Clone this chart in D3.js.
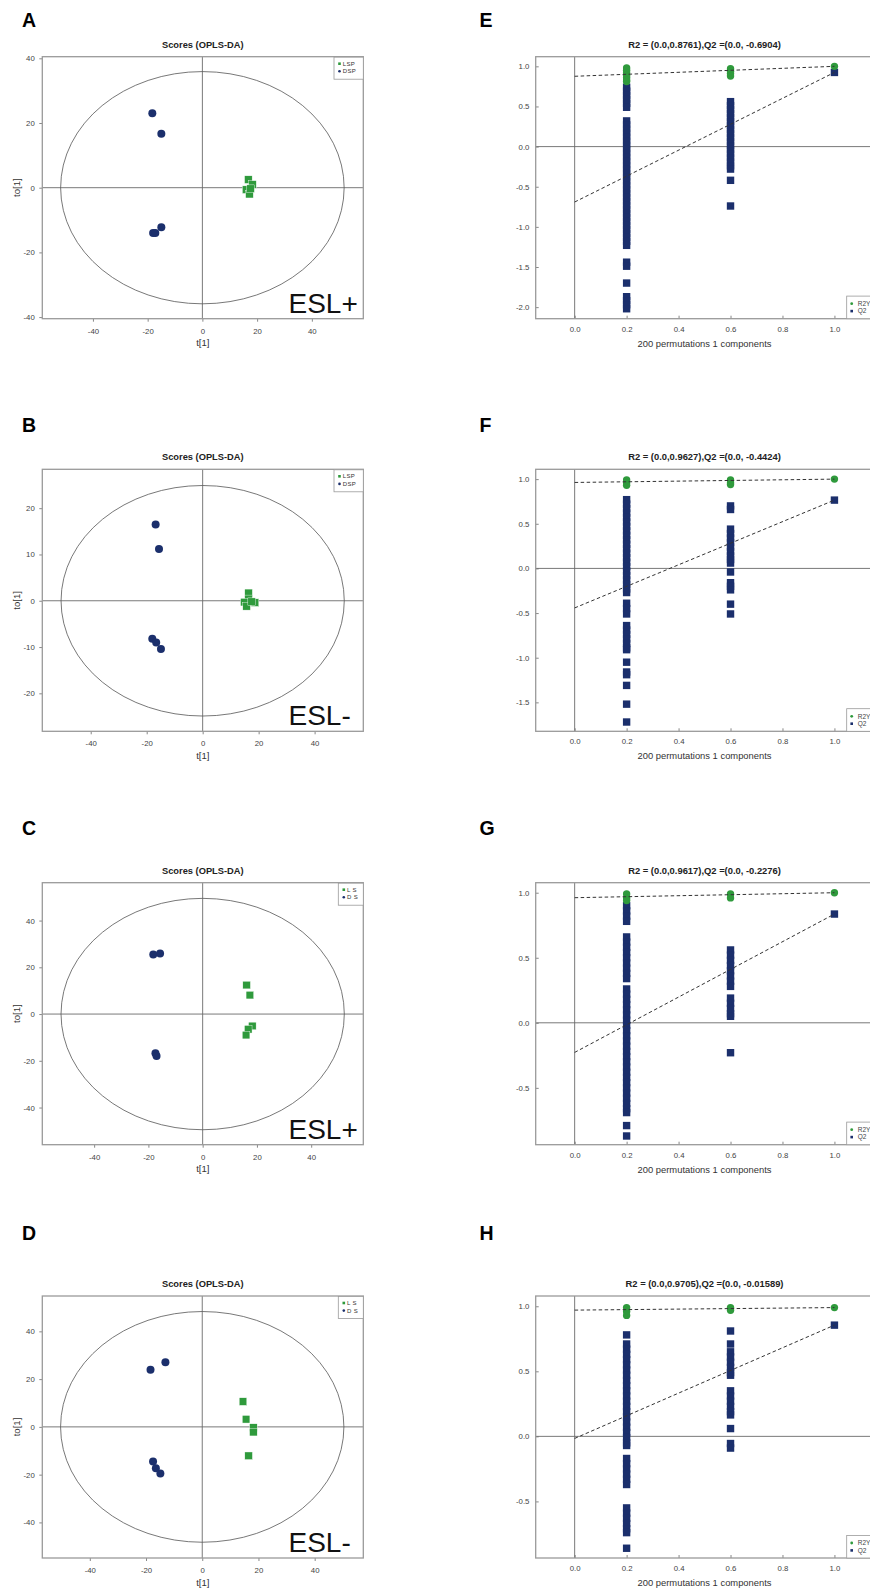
<!DOCTYPE html>
<html><head><meta charset="utf-8">
<script src="https://cdn.jsdelivr.net/npm/d3@7"></script>
<style>
body{margin:0;background:#fff}
svg{display:block}
text{font-family:Arial,"Liberation Sans",Helvetica,sans-serif}
</style>
</head><body>
<svg id="chart" width="870" height="1590"></svg>
<script>
// ---------------- DATA ----------------
// Score plots (OPLS-DA): [t[1], to[1]]
const aLSP = [[16.8,2.5],[18.3,1.0],[16.0,-0.6],[17.2,-2.0],[17.6,-0.3]];
const aDSP = [[-18.3,23.0],[-15.0,16.7],[-15.0,-12.2],[-18.0,-14.0],[-17.2,-14.0]];
const bLSP = [[16.4,1.7],[16.4,0.4],[14.9,-0.3],[18.7,-0.4],[15.7,-1.2],[17.5,-0.2]];
const bDSP = [[-16.8,16.5],[-15.6,11.2],[-18.0,-8.2],[-16.6,-9.0],[-14.9,-10.4]];
const cLS  = [[16.2,12.4],[17.4,8.1],[18.3,-5.1],[16.8,-6.5],[16.0,-9.0]];
const cDS  = [[-18.2,25.5],[-15.7,25.9],[-17.4,-16.8],[-17.0,-17.9]];
const dLS  = [[14.5,10.6],[15.6,3.2],[18.2,-0.3],[18.2,-2.2],[16.5,-12.1]];
const dDS  = [[-18.4,23.9],[-13.1,27.1],[-17.5,-14.5],[-16.5,-17.3],[-14.9,-19.5]];
// Hotelling ellipse semi-axes [t, to]
const aEllipse = [51.8, 35.9];
const bEllipse = [50.6, 24.9];
const cEllipse = [52.2, 49.5];
const dEllipse = [50.4, 48.3];
const scoreXTicks = [-40,-20,0,20,40];
const scoreYTicksAC = [-40,-20,0,20,40];
const scoreYTicksB = [-20,-10,0,10,20];
const scoreLabels = ["ESL+","ESL-","ESL+","ESL-"];
const legendAB = ["LSP","DSP"];
const legendCD = ["L S","D S"];

// Permutation plots
const permXTicks = [0,0.2,0.4,0.6,0.8,1.0];
const permTitles = [
  "R2 = (0.0,0.8761),Q2 =(0.0, -0.6904)",
  "R2 = (0.0,0.9627),Q2 =(0.0, -0.4424)",
  "R2 = (0.0,0.9617),Q2 =(0.0, -0.2276)",
  "R2 = (0.0,0.9705),Q2 =(0.0, -0.01589)"
];
const eIntercepts = [0.8761, -0.6904];
const fIntercepts = [0.9627, -0.4424];
const gIntercepts = [0.9617, -0.2276];
const hIntercepts = [0.9705, -0.01589];
// values at x = 1.0 (original model): [R2Y, Q2]
const eFull = [1.0, 0.924];
const fFull = [1.0, 0.765];
const gFull = [1.0, 0.836];
const hFull = [0.99, 0.855];

const eR2Y_02 = [0.98,0.95,0.92,0.89,0.86,0.83,0.81];
const eR2Y_06 = [0.97,0.94,0.91,0.88];
const eQ2_02 = [0.74,0.69,0.64,0.59,0.54,0.49,0.32,0.27,0.22,0.17,0.12,0.07,0.02,-0.03,-0.08,-0.13,-0.18,-0.23,-0.28,-0.33,-0.38,-0.43,-0.48,-0.53,-0.58,-0.63,-0.68,-0.73,-0.78,-0.83,-0.88,-0.93,-0.98,-1.03,-1.08,-1.13,-1.18,-1.23,-1.44,-1.49,-1.70,-1.87,-1.92,-1.97,-2.02];
const eQ2_06 = [0.56,0.51,0.46,0.41,0.36,0.31,0.26,0.21,0.16,0.11,0.06,0.01,-0.04,-0.09,-0.14,-0.19,-0.24,-0.28,-0.42,-0.74];

const fR2Y_02 = [0.99,0.96,0.93];
const fR2Y_06 = [0.99,0.96,0.94];
const fQ2_02 = [0.77,0.72,0.67,0.62,0.57,0.52,0.47,0.42,0.37,0.32,0.27,0.22,0.17,0.12,0.07,0.02,-0.03,-0.08,-0.13,-0.18,-0.23,-0.27,-0.39,-0.45,-0.51,-0.64,-0.69,-0.74,-0.79,-0.84,-0.89,-0.91,-1.05,-1.16,-1.19,-1.31,-1.52,-1.72];
const fQ2_06 = [0.70,0.66,0.44,0.39,0.34,0.29,0.24,0.19,0.14,0.10,0.06,-0.04,-0.16,-0.20,-0.24,-0.40,-0.51];

const gR2Y_02 = [0.99,0.96,0.94];
const gR2Y_06 = [0.99,0.96];
const gQ2_02 = [0.90,0.86,0.82,0.78,0.66,0.62,0.58,0.54,0.50,0.46,0.42,0.38,0.34,0.26,0.22,0.18,0.14,0.10,0.06,0.02,-0.02,-0.06,-0.10,-0.14,-0.18,-0.22,-0.26,-0.30,-0.34,-0.38,-0.42,-0.46,-0.50,-0.54,-0.58,-0.62,-0.66,-0.69,-0.79,-0.87];
const gQ2_06 = [0.56,0.52,0.48,0.44,0.40,0.36,0.32,0.28,0.19,0.15,0.11,0.07,0.05,-0.23];

const hR2Y_02 = [0.99,0.96,0.93];
const hR2Y_06 = [0.99,0.97];
const hQ2_02 = [0.78,0.71,0.67,0.63,0.59,0.55,0.51,0.47,0.43,0.39,0.35,0.31,0.27,0.23,0.19,0.15,0.11,0.07,0.03,-0.01,-0.05,-0.07,-0.17,-0.21,-0.25,-0.29,-0.33,-0.37,-0.55,-0.59,-0.63,-0.67,-0.71,-0.74,-0.86];
const hQ2_06 = [0.81,0.71,0.65,0.61,0.57,0.53,0.49,0.47,0.35,0.31,0.27,0.23,0.19,0.165,0.06,-0.055,-0.09];

// ---------------- DRAWING ----------------
const svg = d3.select("#chart");
svg.append("rect").attr("width",870).attr("height",1590).attr("fill","#fff");
const GREEN = "#2f9a3c", BLUE = "#1b2f6c", FRAME = "#9a9a9a", ZERO = "#6a6a6a";
const FONT = "Arial, 'Liberation Sans', Helvetica, sans-serif";
const PH = 262; // plot height

function styleAxis(g, fs) {
  g.attr("font-size", fs).attr("font-family", FONT);
  g.select(".domain").remove();
  g.selectAll(".tick line").attr("stroke", "#888");
  g.selectAll(".tick text").attr("fill", "#444");
}

function scorePanel(cfg) {
  const L = 42.3, R = 363.3, T = cfg.top, B = cfg.top + PH;
  const g = svg.append("g");
  const x = d3.scaleLinear().domain(cfg.xDomain).range([L, R]);
  const y = d3.scaleLinear().domain(cfg.yDomain).range([B, T]);

  g.append("text").attr("x", 22).attr("y", cfg.letterY).text(cfg.letter)
    .attr("font-size", 19.5).attr("font-weight", "bold").attr("fill", "#000");
  g.append("text").attr("x", (L + R) / 2).attr("y", T - 9).attr("text-anchor", "middle")
    .attr("font-size", 9.3).attr("font-weight", "bold").attr("fill", "#222").text("Scores (OPLS-DA)");

  const xa = g.append("g").attr("transform", `translate(0,${B})`)
    .call(d3.axisBottom(x).tickValues(scoreXTicks).tickSize(3).tickFormat(d => String(d)));
  styleAxis(xa, 7.8);
  xa.selectAll(".tick text").attr("y", 9.6);
  const ya = g.append("g").attr("transform", `translate(${L},0)`)
    .call(d3.axisLeft(y).tickValues(cfg.yTicks).tickSize(3).tickFormat(d => String(d)));
  styleAxis(ya, 7.8);
  ya.selectAll(".tick text").attr("x", -7.5);

  // zero lines
  g.append("line").attr("x1", x(0)).attr("x2", x(0)).attr("y1", T).attr("y2", B).attr("stroke", ZERO).attr("stroke-width", 0.9);
  g.append("line").attr("x1", L).attr("x2", R).attr("y1", y(0)).attr("y2", y(0)).attr("stroke", ZERO).attr("stroke-width", 0.9);
  // ellipse
  g.append("ellipse").attr("cx", x(0)).attr("cy", y(0))
    .attr("rx", x(cfg.ellipse[0]) - x(0)).attr("ry", y(0) - y(cfg.ellipse[1]))
    .attr("fill", "none").attr("stroke", "#555").attr("stroke-width", 0.8);

  // frame
  g.append("rect").attr("x", L).attr("y", T).attr("width", R - L).attr("height", PH)
    .attr("fill", "none").attr("stroke", FRAME).attr("stroke-width", 1.3);

  // points
  const s = 7.6;
  g.selectAll(".sq").data(cfg.green).join("rect")
    .attr("x", d => x(d[0]) - s / 2).attr("y", d => y(d[1]) - s / 2)
    .attr("width", s).attr("height", s).attr("fill", GREEN).attr("stroke", "#fff").attr("stroke-width", 0.4);
  g.selectAll(".ci").data(cfg.blue).join("circle")
    .attr("cx", d => x(d[0])).attr("cy", d => y(d[1])).attr("r", 4).attr("fill", BLUE);

  // legend
  const lx = cfg.legendX;
  g.append("rect").attr("x", lx).attr("y", T + 0.5).attr("width", R - lx).attr("height", 22)
    .attr("fill", "#fff").attr("stroke", FRAME).attr("stroke-width", 0.8);
  cfg.legend.forEach((lab, i) => {
    const yy = T + 7 + i * 7.6;
    if (i === 0) g.append("rect").attr("x", lx + 4.2).attr("y", yy - 1.3).attr("width", 2.6).attr("height", 2.6).attr("fill", GREEN);
    else g.append("circle").attr("cx", lx + 5.5).attr("cy", yy).attr("r", 1.3).attr("fill", BLUE);
    g.append("text").attr("x", lx + 8.8).attr("y", yy + 2.1).text(lab)
      .attr("font-family", "'Liberation Serif', 'DejaVu Serif', serif").attr("font-size", 6).attr("fill", "#333")
      .attr("letter-spacing", 0.3);
  });

  // group label
  g.append("text").attr("x", 288.5).attr("y", B - 6).text(cfg.tag)
    .attr("font-size", 28).attr("fill", "#111");

  // axis titles
  g.append("text").attr("x", (L + R) / 2).attr("y", B + 27.5).attr("text-anchor", "middle")
    .attr("font-size", 9.6).attr("fill", "#333").text("t[1]");
  g.append("text").attr("transform", `translate(19.5,${(T + B) / 2}) rotate(-90)`).attr("text-anchor", "middle")
    .attr("font-size", 9.6).attr("fill", "#333").text("to[1]");
}

function permPanel(cfg) {
  const L = 535.7, R = 873.4, T = cfg.top, B = cfg.top + PH;
  const g = svg.append("g");
  const x = d3.scaleLinear().domain([-0.15, 1.15]).range([L, R]);
  const y = d3.scaleLinear().domain(cfg.yDomain).range([B, T]);

  g.append("text").attr("x", 479.5).attr("y", cfg.letterY).text(cfg.letter)
    .attr("font-size", 19.5).attr("font-weight", "bold").attr("fill", "#000");
  g.append("text").attr("x", x(0.5)).attr("y", T - 9).attr("text-anchor", "middle")
    .attr("font-size", 9.4).attr("font-weight", "bold").attr("fill", "#222").text(cfg.title);

  const xa = g.append("g").attr("transform", `translate(0,${B})`)
    .call(d3.axisBottom(x).tickValues(permXTicks).tickSize(-3).tickFormat(d => d.toFixed(1)));
  styleAxis(xa, 7.8);
  xa.selectAll(".tick text").attr("y", 7.6);
  const ya = g.append("g").attr("transform", `translate(${L},0)`)
    .call(d3.axisLeft(y).tickValues(cfg.yTicks).tickSize(-3).tickFormat(d => d.toFixed(1)));
  styleAxis(ya, 7.8);
  ya.selectAll(".tick text").attr("x", -6.3);

  g.append("line").attr("x1", x(0)).attr("x2", x(0)).attr("y1", T).attr("y2", B).attr("stroke", ZERO).attr("stroke-width", 0.9);
  g.append("line").attr("x1", L).attr("x2", R).attr("y1", y(0)).attr("y2", y(0)).attr("stroke", ZERO).attr("stroke-width", 0.9);

  // Q2 squares
  const s = 7.4;
  const q2 = [].concat(cfg.q2_02.map(v => [0.2, v]), cfg.q2_06.map(v => [0.6, v]), [[1.0, cfg.full[1]]]);
  g.selectAll(".q").data(q2).join("rect")
    .attr("x", d => x(d[0]) - s / 2).attr("y", d => y(d[1]) - s / 2)
    .attr("width", s).attr("height", s).attr("fill", BLUE);
  // R2Y circles
  const r2 = [].concat(cfg.r2_02.map(v => [0.2, v]), cfg.r2_06.map(v => [0.6, v]), [[1.0, cfg.full[0]]]);
  g.selectAll(".r").data(r2).join("circle")
    .attr("cx", d => x(d[0])).attr("cy", d => y(d[1])).attr("r", 3.7).attr("fill", GREEN);

  // regression lines
  const line = d3.line().x(d => x(d[0])).y(d => y(d[1]));
  g.append("path").attr("d", line([[0, cfg.intercepts[0]], [1, cfg.full[0]]]))
    .attr("fill", "none").attr("stroke", "#333").attr("stroke-width", 1).attr("stroke-dasharray", "3.5,2.5");
  g.append("path").attr("d", line([[0, cfg.intercepts[1]], [1, cfg.full[1]]]))
    .attr("fill", "none").attr("stroke", "#333").attr("stroke-width", 1).attr("stroke-dasharray", "3.5,2.5");

  // frame
  g.append("rect").attr("x", L).attr("y", T).attr("width", R - L).attr("height", PH)
    .attr("fill", "none").attr("stroke", FRAME).attr("stroke-width", 1.3);

  // legend
  const lx = 846.7;
  g.append("rect").attr("x", lx).attr("y", B - 22.6).attr("width", 40).attr("height", 22.6)
    .attr("fill", "#fff").attr("stroke", FRAME).attr("stroke-width", 0.8);
  g.append("circle").attr("cx", lx + 5).attr("cy", B - 15).attr("r", 1.4).attr("fill", GREEN);
  g.append("rect").attr("x", lx + 3.7).attr("y", B - 8.9).attr("width", 2.6).attr("height", 2.6).attr("fill", BLUE);
  g.append("text").attr("x", lx + 11).attr("y", B - 12.8).text("R2Y").attr("font-size", 6.5).attr("fill", "#444");
  g.append("text").attr("x", lx + 11).attr("y", B - 5.4).text("Q2").attr("font-size", 6.5).attr("fill", "#444");

  g.append("text").attr("x", x(0.5)).attr("y", B + 28).attr("text-anchor", "middle")
    .attr("font-size", 9.4).attr("fill", "#333").text("200 permutations 1 components");
}

const tops = [56.7, 469.3, 882.7, 1296];
const letterYs = [27, 431.7, 835, 1240];

scorePanel({top: tops[0], letter: "A", letterY: letterYs[0], xDomain: [-58.5, 58.8], yDomain: [-40.5, 40.5],
  yTicks: scoreYTicksAC, ellipse: aEllipse, green: aLSP, blue: aDSP, legend: legendAB, legendX: 334, tag: scoreLabels[0]});
scorePanel({top: tops[1], letter: "B", letterY: letterYs[1], xDomain: [-57.3, 57.4], yDomain: [-28.2, 28.4],
  yTicks: scoreYTicksB, ellipse: bEllipse, green: bLSP, blue: bDSP, legend: legendAB, legendX: 334, tag: scoreLabels[1]});
scorePanel({top: tops[2], letter: "C", letterY: letterYs[2], xDomain: [-59.1, 59.2], yDomain: [-55.9, 56.2],
  yTicks: scoreYTicksAC, ellipse: cEllipse, green: cLS, blue: cDS, legend: legendCD, legendX: 338.3, tag: scoreLabels[2]});
scorePanel({top: tops[3], letter: "D", letterY: letterYs[3], xDomain: [-56.9, 57.3], yDomain: [-54.9, 54.8],
  yTicks: scoreYTicksAC, ellipse: dEllipse, green: dLS, blue: dDS, legend: legendCD, legendX: 338.3, tag: scoreLabels[3]});

permPanel({top: tops[0], letter: "E", letterY: letterYs[0], title: permTitles[0], yDomain: [-2.144, 1.12],
  yTicks: [-2,-1.5,-1,-0.5,0,0.5,1], intercepts: eIntercepts, full: eFull, r2_02: eR2Y_02, r2_06: eR2Y_06, q2_02: eQ2_02, q2_06: eQ2_06});
permPanel({top: tops[1], letter: "F", letterY: letterYs[1], title: permTitles[1], yDomain: [-1.824, 1.11],
  yTicks: [-1.5,-1,-0.5,0,0.5,1], intercepts: fIntercepts, full: fFull, r2_02: fR2Y_02, r2_06: fR2Y_06, q2_02: fQ2_02, q2_06: fQ2_06});
permPanel({top: tops[2], letter: "G", letterY: letterYs[2], title: permTitles[2], yDomain: [-0.937, 1.077],
  yTicks: [-0.5,0,0.5,1], intercepts: gIntercepts, full: gFull, r2_02: gR2Y_02, r2_06: gR2Y_06, q2_02: gQ2_02, q2_06: gQ2_06});
permPanel({top: tops[3], letter: "H", letterY: letterYs[3], title: permTitles[3], yDomain: [-0.935, 1.079],
  yTicks: [-0.5,0,0.5,1], intercepts: hIntercepts, full: hFull, r2_02: hR2Y_02, r2_06: hR2Y_06, q2_02: hQ2_02, q2_06: hQ2_06});
</script>
</body></html>
